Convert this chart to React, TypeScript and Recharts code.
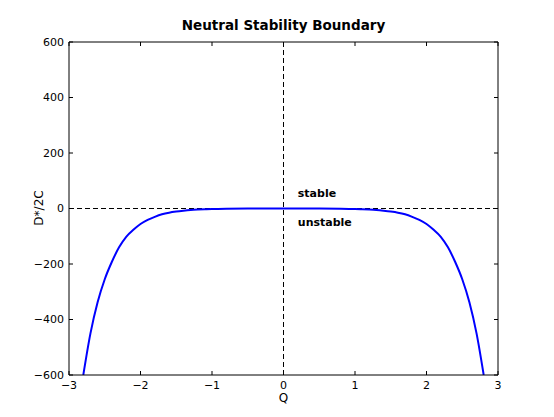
import { LineChart, Line, XAxis, YAxis, ReferenceLine, ReferenceDot } from "recharts";

// Q values (x) and the boundary D*/2C (y)
const Q_VALUES = [
  -2.8, -2.7, -2.6, -2.5, -2.4, -2.3, -2.2, -2.1, -2.0, -1.9, -1.8, -1.7, -1.6, -1.5, -1.4, -1.3,
  -1.2, -1.1, -1.0, -0.8, -0.5, 0, 0.5, 0.8, 1.0, 1.1, 1.2, 1.3, 1.4, 1.5, 1.6, 1.7, 1.8, 1.9,
  2.0, 2.1, 2.2, 2.3, 2.4, 2.5, 2.6, 2.7, 2.8,
];
const BOUNDARY = [
  -600, -450, -338, -255, -192, -140, -102, -77, -56, -41, -30, -21, -15, -11, -8, -5.5,
  -3.8, -2.5, -1.5, -0.5, 0, 0, 0, -0.5, -1.5, -2.5, -3.8, -5.5, -8, -11, -15, -21, -30, -41,
  -56, -77, -102, -140, -192, -255, -338, -450, -600,
];

const X_TICKS = [-3, -2, -1, 0, 1, 2, 3];
const Y_TICKS = [-600, -400, -200, 0, 200, 400, 600];

const NOTES = [
  { text: "stable", q: 0.2, d: 42 },
  { text: "unstable", q: 0.2, d: -63 },
];

const data = Q_VALUES.map((q, i) => ({ q, d: BOUNDARY[i] }));

const font = "'DejaVu Sans', sans-serif";
const fmt = (v: number) => String(v).replace("-", "\u2212");

// matplotlib-style ticks: marks point into the plot, labels outside
const BottomTick = (p: any) => (
  <g>
    <line x1={p.x} x2={p.x} y1={p.y} y2={p.y - 4} stroke="#000" />
    <text x={p.x} y={p.y + 6} dy="0.71em" textAnchor="middle" fontFamily={font} fontSize={11} fill="#000">
      {fmt(p.payload.value)}
    </text>
  </g>
);
const LeftTick = (p: any) => (
  <g>
    <line x1={p.x} x2={p.x + 4} y1={p.y} y2={p.y} stroke="#000" />
    <text x={p.x - 5} y={p.y} dy="0.36em" textAnchor="end" fontFamily={font} fontSize={11} fill="#000">
      {fmt(p.payload.value)}
    </text>
  </g>
);
const TopTick = (p: any) => <line x1={p.x} x2={p.x} y1={p.y} y2={p.y + 4} stroke="#000" />;
const RightTick = (p: any) => <line x1={p.x} x2={p.x - 4} y1={p.y} y2={p.y} stroke="#000" />;

export default function App() {
  return (
    <div style={{ position: "absolute", left: 0, top: 0, width: 554, height: 417, background: "#fff" }}>
      <div
        style={{
          position: "absolute",
          left: 69,
          width: 429,
          top: 17,
          textAlign: "center",
          fontFamily: font,
          fontWeight: "bold",
          fontSize: 13.5,
        }}
      >
        Neutral Stability Boundary
      </div>
      <div
        style={{
          position: "absolute",
          left: 69,
          width: 429,
          top: 391,
          textAlign: "center",
          fontFamily: font,
          fontSize: 12,
        }}
      >
        Q
      </div>
      <div
        style={{
          position: "absolute",
          left: 0,
          top: 200,
          width: 80,
          textAlign: "center",
          fontFamily: font,
          fontSize: 12,
          transform: "rotate(-90deg)",
          transformOrigin: "40px 8px",
        }}
      >
        D*/2C
      </div>
      <LineChart width={554} height={417} data={data} margin={{ top: 41, right: 55, bottom: 12, left: 9 }}>
        <XAxis
          dataKey="q"
          type="number"
          domain={[-3, 3]}
          ticks={X_TICKS}
          interval={0}
          tickSize={0}
          tickMargin={0}
          tickLine={false}
          tick={BottomTick}
          stroke="#000"
          height={30}
          allowDataOverflow
        />
        <XAxis
          xAxisId="top"
          orientation="top"
          dataKey="q"
          type="number"
          domain={[-3, 3]}
          ticks={X_TICKS}
          interval={0}
          tickSize={0}
          tickMargin={0}
          tickLine={false}
          tick={TopTick}
          stroke="#000"
          height={1}
          allowDataOverflow
        />
        <YAxis
          type="number"
          domain={[-600, 600]}
          ticks={Y_TICKS}
          interval={0}
          tickSize={0}
          tickMargin={0}
          tickLine={false}
          tick={LeftTick}
          stroke="#000"
          width={60}
          allowDataOverflow
        />
        <YAxis
          yAxisId="right"
          orientation="right"
          type="number"
          domain={[-600, 600]}
          ticks={Y_TICKS}
          interval={0}
          tickSize={0}
          tickMargin={0}
          tickLine={false}
          tick={RightTick}
          stroke="#000"
          width={1}
          allowDataOverflow
        />
        <ReferenceLine y={0} stroke="#000" strokeDasharray="5 3" />
        <ReferenceLine x={0} stroke="#000" strokeDasharray="5 3" />
        <Line
          type="monotone"
          dataKey="d"
          stroke="#0000ff"
          strokeWidth={2}
          dot={false}
          isAnimationActive={false}
        />
        {NOTES.map((n) => (
          <ReferenceDot
            key={n.text}
            x={n.q}
            y={n.d}
            r={0}
            shape={(p: any) => (
              <text x={p.cx} y={p.cy} fontFamily={font} fontWeight="bold" fontSize={11} fill="#000">
                {n.text}
              </text>
            )}
          />
        ))}
      </LineChart>
    </div>
  );
}
